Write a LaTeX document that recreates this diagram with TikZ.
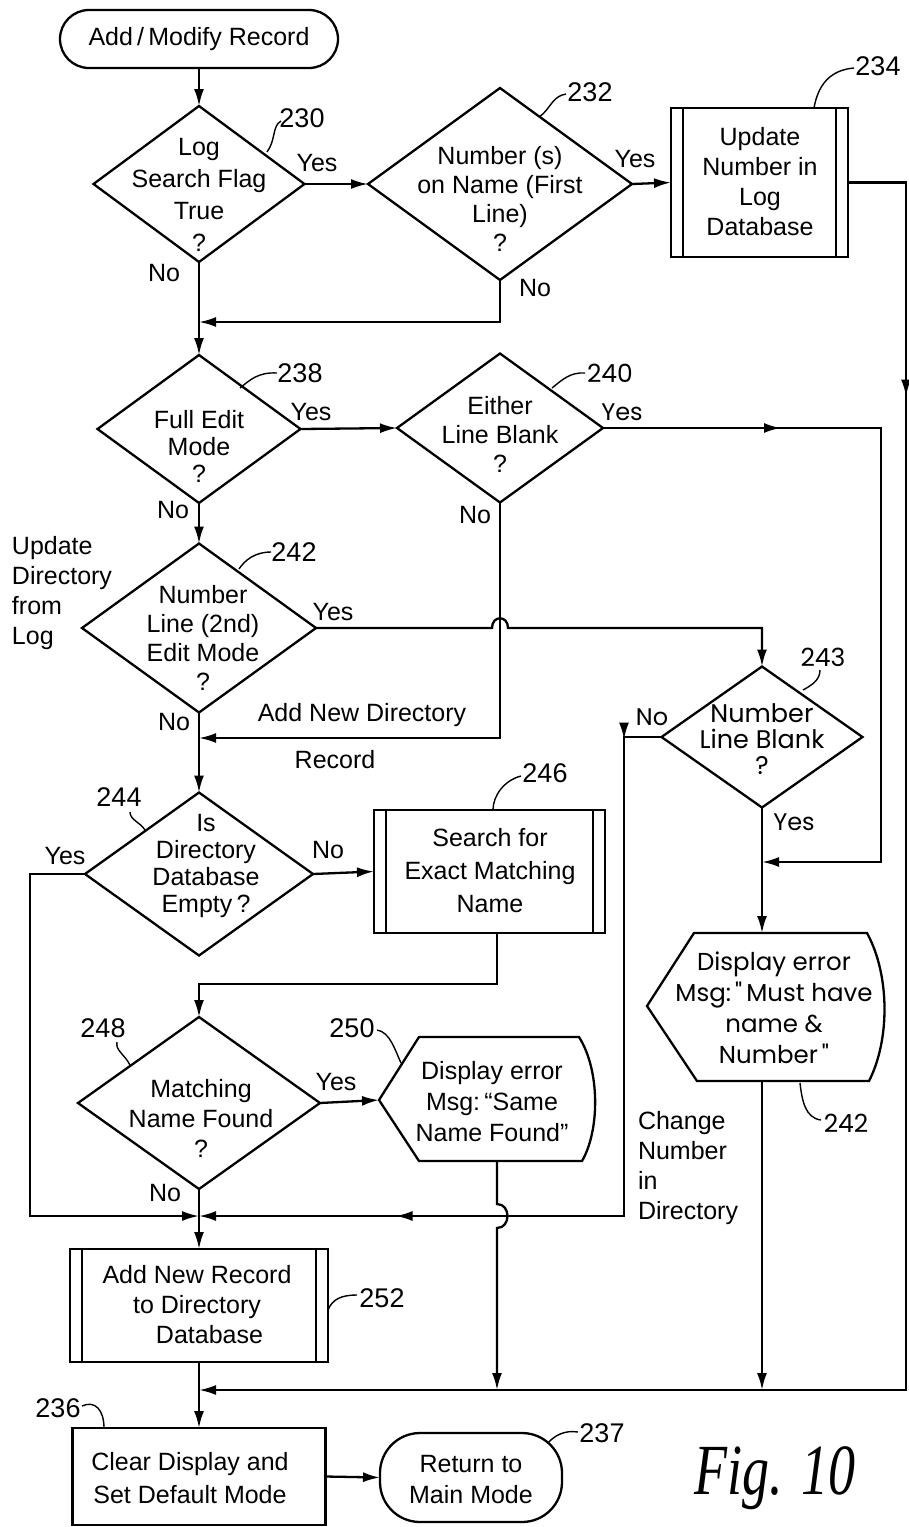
\documentclass[tikz,border=0pt]{standalone}
\usepackage{fontspec}
\setmainfont{Liberation Sans}
\newfontfamily\geofont{Poppins}
\newfontfamily\figfont{Liberation Serif}
\usetikzlibrary{arrows.meta,shapes.geometric,decorations.markings}
\begin{document}
\begin{tikzpicture}[x=1pt,y=-1pt,
  ln/.style={line width=2.3pt},
  arr/.style={line width=2.3pt,-{Latex[length=17pt,width=10pt]}},
  dia/.style={draw,diamond,line width=2.3pt,inner sep=0pt,outer sep=0pt},
  rbox/.style={draw,rectangle,line width=2.3pt,inner sep=0pt,outer sep=0pt},
  txt/.style={align=center,inner sep=0pt,font=\fontsize{25}{29}\selectfont},
  gtxt/.style={align=center,inner sep=0pt,font=\geofont\fontsize{24}{27}\selectfont},
  yn/.style={inner sep=0pt,font=\fontsize{25}{28}\selectfont},
  gyn/.style={inner sep=0pt,font=\geofont\fontsize{24}{28}\selectfont},
  refn/.style={inner sep=0pt,font=\fontsize{27}{28}\selectfont},
  grefn/.style={inner sep=0pt,font=\geofont\fontsize{25}{28}\selectfont},
  lead/.style={line width=1.4pt},
  marr/.style={postaction={decorate,decoration={markings,mark=at position #1 with {\arrow{Latex[length=17pt,width=10pt]}}}}},
  marrr/.style 2 args={postaction={decorate,decoration={markings,mark=at position #1 with {\arrow{Latex[length=17pt,width=10pt]}},mark=at position #2 with {\arrow{Latex[length=17pt,width=10pt]}}}}},
]
\useasboundingbox (0,0) rectangle (909,1527);

% ---------- nodes ----------
\node[draw,line width=2.3pt,rounded corners=29pt,minimum width=278pt,minimum height=58pt,inner sep=0pt,outer sep=0pt,font=\fontsize{25}{29}\selectfont] (start) at (199,39) {Add\,/\,Modify Record};

\node[dia,minimum width=211pt,minimum height=156pt] (d230) at (199,184) {};
\node[txt,font=\fontsize{25}{32}\selectfont] (t230) at (199,195) {Log\\Search Flag\\True\\?};

\node[dia,minimum width=264pt,minimum height=192pt] (d232) at (500,184) {};
\node[txt] (t232) at (500,199) {Number (s)\\on Name (First\\Line)\\?};

\node[rbox,minimum width=177pt,minimum height=149pt] (b234) at (759.5,182.5) {};
\node[txt,font=\fontsize{25}{30}\selectfont] (t234) at (760,182) {Update\\Number in\\Log\\Database};

\node[dia,minimum width=203pt,minimum height=148pt] (d238) at (199,429) {};
\node[txt,font=\fontsize{25}{27}\selectfont] (t238) at (199,446) {Full Edit\\Mode\\?};

\node[dia,minimum width=206pt,minimum height=149pt] (d240) at (500,428) {};
\node[txt] (t240) at (500,434) {Either\\Line Blank\\?};

\node[dia,minimum width=234pt,minimum height=169pt] (d242) at (199,628) {};
\node[txt] (t242) at (203,638) {Number\\Line (2nd)\\Edit Mode\\?};

\node[dia,minimum width=201pt,minimum height=141pt] (d243) at (762,737) {};
\node[gtxt,font=\geofont\fontsize{25.5}{26}\selectfont] (t243) at (762,739) {Number\\Line Blank\\?};

\node[dia,minimum width=228pt,minimum height=163pt] (d244) at (199,874) {};
\node[txt,font=\fontsize{25}{27}\selectfont] (t244) at (206,866) {Is\\Directory\\Database\\Empty\,?};

\node[rbox,minimum width=231pt,minimum height=123pt] (b246) at (489.5,871.5) {};
\node[txt,font=\fontsize{25}{33}\selectfont] (t246) at (490,871) {Search for\\Exact Matching\\Name};

\node[dia,minimum width=242pt,minimum height=172pt] (d248) at (199,1103) {};
\node[txt,font=\fontsize{25}{30}\selectfont] (t248) at (201,1118) {Matching\\Name Found\\?};

% display 250
\coordinate (d250w) at (379,1100);
\coordinate (d250s) at (497,1161);
\draw[ln] (d250w) -- (419,1037) -- (579,1037) .. controls (600,1070) and (600,1130) .. (582,1161) -- (419,1161) -- cycle;
\node[txt,font=\fontsize{25}{31}\selectfont] (t250) at (492,1102) {Display error\\Msg:\,``Same\\Name Found''};

% display 242
\coordinate (d242n) at (762,933);
\coordinate (d242s) at (762,1081);
\draw[ln] (647,1006) -- (694,933) -- (d242n) -- (867,933) .. controls (890,975) and (890,1040) .. (869,1081) -- (d242s) -- (697,1081) -- cycle;
\node[gtxt,font=\geofont\fontsize{24.5}{31}\selectfont] (t242b) at (774,1008) {Display error\\Msg:\,"\,Must have\\name \&\\Number\,"};

\node[rbox,minimum width=258pt,minimum height=113pt] (b252) at (199,1305.5) {};
\node[txt,font=\fontsize{25}{30}\selectfont] (t252) at (197,1305) {Add New Record\\to Directory\\\quad Database};

\node[rbox,minimum width=253pt,minimum height=97pt] (b236) at (199,1476.5) {};
\node[txt,font=\fontsize{25}{33}\selectfont] (t236) at (190,1478) {Clear Display and\\Set Default Mode};

\node[draw,line width=2.3pt,rounded corners=40pt,minimum width=182pt,minimum height=89pt,inner sep=0pt,outer sep=0pt] (t237) at (471,1477.5) {};
\node[txt,font=\fontsize{25}{31}\selectfont] (tt237) at (471,1480) {Return to\\Main Mode};

% double side lines of process boxes
\foreach \b in {b234,b246,b252} {
  \draw[ln] ([xshift=12pt]\b.north west) -- ([xshift=12pt]\b.south west);
  \draw[ln] ([xshift=-12pt]\b.north east) -- ([xshift=-12pt]\b.south east);
}

% ---------- junction coordinates ----------
\coordinate (j232) at (500,322);
\coordinate (m1) at (199,322);
\coordinate (re1) at (906,182.5);
\coordinate (re2) at (906,1390);
\coordinate (m5) at (199,1390);
\coordinate (c1) at (881,428);
\coordinate (c2) at (881,862);
\coordinate (c3) at (762,862);
\coordinate (c4) at (500,738);
\coordinate (m2) at (199,738);
\coordinate (h1a) at (492,628);
\coordinate (h1b) at (508,628);
\coordinate (h1c) at (762,628);
\coordinate (c5) at (624,737);
\coordinate (c6) at (624,1216);
\coordinate (m3) at (199,1216);
\coordinate (c7) at (30,874);
\coordinate (c8) at (30,1216);
\coordinate (c9) at (497,984);
\coordinate (c10) at (199,984);
\coordinate (h2a) at (497,1204);
\coordinate (h2b) at (497,1228);
\coordinate (c11) at (497,1390);
\coordinate (c12) at (762,1390);

% ---------- connectors ----------
\draw[arr] (start.south) -- (d230.north);
\draw[arr] (d230.east) -- (d232.west);
\draw[arr] (d232.east) -- (b234.west);
\draw[arr,marr=272pt] (b234.east) -- (re1) -- (re2) -- (m5);
\draw[arr] (d230.south) -- (d238.north);
\draw[arr] (d232.south) -- (j232) -- (m1);
\draw[arr] (d238.east) -- (d240.west);
\draw[arr,marr=178pt] (d240.east) -- (c1) -- (c2) -- (c3);
\draw[arr] (d240.south) -- (c4) -- (m2);
\draw[arr] (d238.south) -- (d242.north);
\draw[arr] (d242.east) -- (h1a) .. controls (492,615) and (508,615) .. (h1b) -- (h1c) -- (d243.north);
\draw[arr,marrr={40pt}{745pt}] (d243.west) -- (c5) -- (c6) -- (m3);
\draw[arr] (d243.south) -- (d242n);
\draw[arr] (d242.south) -- (d244.north);
\draw[arr] (d244.west) -- (c7) -- (c8) -- (m3);
\draw[arr] (d244.east) -- (b246.west);
\draw[arr] (b246.south -| c9) -- (c9) -- (c10) -- (d248.north);
\draw[arr] (d248.east) -- (d250w);
\draw[arr] (d248.south) -- (b252.north);
\draw[arr] (d250s) -- (h2a) .. controls (511,1204) and (511,1228) .. (h2b) -- (c11);
\draw[arr] (d242s) -- (c12);
\draw[arr] (b252.south) -- (b236.north);
\draw[arr] (b236.east) -- (t237.west);

% ---------- Yes / No ----------
\node[yn] (y230) at (317,163) {Yes};
\node[yn] (y232) at (635,159) {Yes};
\node[yn] (y238) at (311,412) {Yes};
\node[gyn] (y240) at (622,412) {Yes};
\node[yn] (y242) at (333,612) {Yes};
\node[gyn] (y243) at (794,822) {Yes};
\node[yn] (y244) at (65,856) {Yes};
\node[yn] (y248) at (336,1082) {Yes};
\node[yn] (n230) at (164,273) {No};
\node[yn] (n232) at (535,288) {No};
\node[yn] (n238) at (173,510) {No};
\node[yn] (n240) at (475,515) {No};
\node[yn] (n242) at (174,722) {No};
\node[gyn] (n243) at (652,717) {No};
\node[yn] (n244) at (328,850) {No};
\node[yn] (n248) at (165,1193) {No};

% ---------- free texts ----------
\node[txt,align=left,font=\fontsize{25}{30}\selectfont] (upd) at (62,593) {Update\\Directory\\from\\Log};
\node[txt,align=left,font=\fontsize{25}{30}\selectfont] (chg) at (688,1168) {Change\\Number\\in\\Directory};
\node[yn] (andr) at (362,715) {Add New Directory};
\node[yn] (rec) at (335,760) {Record};

% ---------- reference numbers ----------
\node[refn] (r230) at (302,118) {230};
\draw[lead] (267,152) .. controls (276,140) and (272,126) .. (281,121);
\node[refn] (r232) at (590,92) {232};
\draw[lead] (539,117) .. controls (550,110) and (552,96) .. (566,94);
\node[refn] (r234) at (878,66) {234};
\draw[lead] (814,108) .. controls (818,85) and (830,70) .. (854,68);
\node[refn] (r238) at (300,373) {238};
\draw[lead] (240,388) .. controls (250,380) and (258,372) .. (277,373);
\node[grefn] (r240) at (610,373) {240};
\draw[lead] (552,388) .. controls (562,380) and (570,372) .. (585,373);
\node[refn] (r242) at (294,552) {242};
\draw[lead] (239,569) .. controls (245,560) and (255,552) .. (271,552);
\node[grefn] (r243) at (823,657) {243};
\draw[lead] (803,690) .. controls (812,685) and (820,680) .. (820,670);
\node[refn] (r244) at (119,797) {244};
\draw[lead] (145,830) .. controls (140,822) and (130,820) .. (130,812);
\node[refn] (r246) at (545,773) {246};
\draw[lead] (493,810) .. controls (493,795) and (505,780) .. (521,776);
\node[refn] (r248) at (103,1028) {248};
\draw[lead] (130,1065) .. controls (125,1055) and (115,1050) .. (117,1042);
\node[refn] (r250) at (352,1028) {250};
\draw[lead] (401,1063) .. controls (395,1050) and (390,1032) .. (377,1030);
\node[grefn] (r242b) at (846,1123) {242};
\draw[lead] (800,1083) .. controls (802,1100) and (805,1118) .. (821,1120);
\node[refn] (r252) at (382,1298) {252};
\draw[lead] (328,1310) .. controls (332,1300) and (340,1295) .. (357,1295);
\node[refn] (r236) at (58,1408) {236};
\draw[lead] (82,1406) .. controls (95,1400) and (104,1410) .. (104,1428);
\node[refn] (r237) at (602,1433) {237};
\draw[lead] (548,1443) .. controls (555,1435) and (565,1430) .. (578,1432);

% ---------- figure label ----------
\node[inner sep=0pt,font=\figfont\itshape\fontsize{72}{72}\selectfont] (fig) at (775,1478) {\scalebox{0.75}[1]{Fig. 10}};
\end{tikzpicture}
\end{document}
